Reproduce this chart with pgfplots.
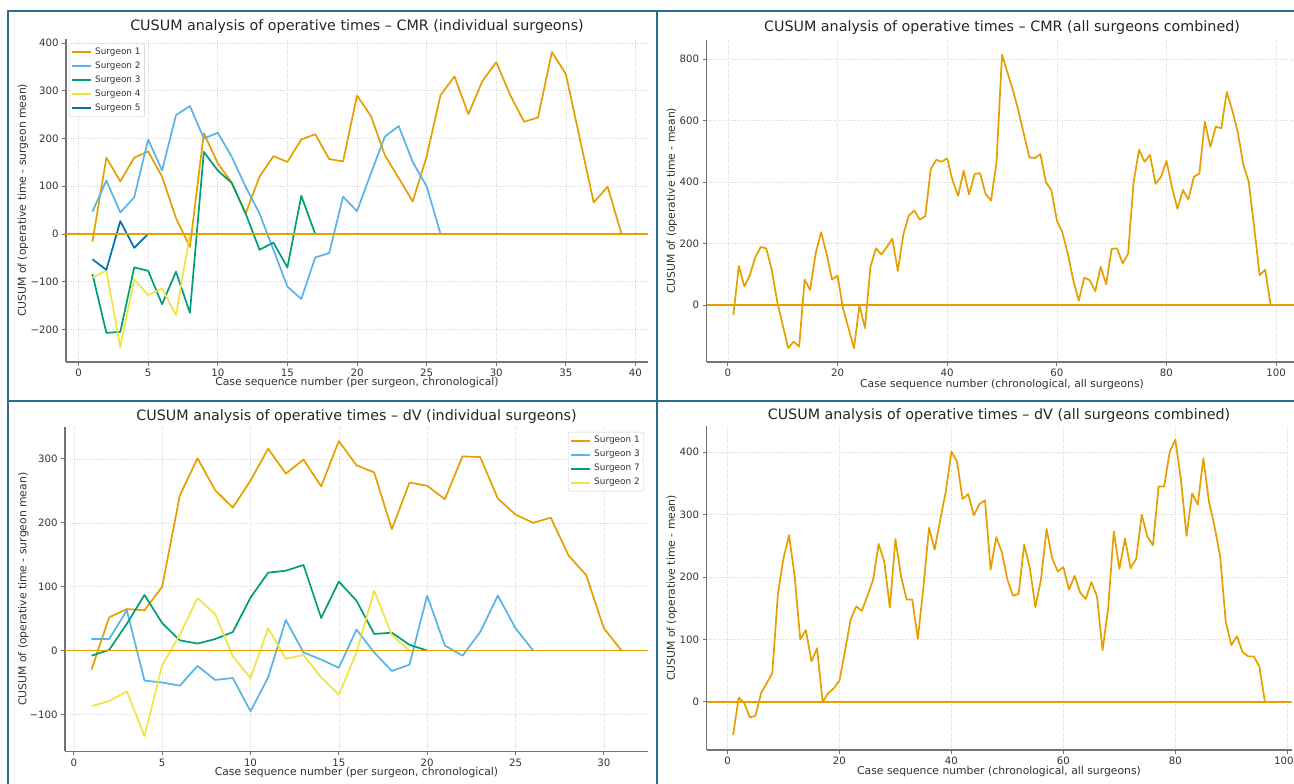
\documentclass[border=0pt]{standalone}
\usepackage{fontspec}
\setmainfont{DejaVu Sans}
\usepackage{pgfplots}
\pgfplotsset{compat=1.18}
\definecolor{cOr}{HTML}{E69F00}
\definecolor{cSky}{HTML}{56B4E9}
\definecolor{cGr}{HTML}{009E73}
\definecolor{cYe}{HTML}{F0E442}
\definecolor{cBl}{HTML}{0072B2}
\definecolor{frameblue}{RGB}{44,108,142}
\pgfplotsset{
  cusum/.style={
    scale only axis,
    anchor=south west,
    /pgf/number format/assume math mode=true,
    axis lines*=left,
    axis line style={draw=black!55, line width=1.2pt},
    tick align=outside,
    major tick length=3.8pt,
    tick style={draw=black!55, line width=0.9pt},
    grid=major,
    grid style={dotted, black!16, line width=0.6pt},
    ticklabel style={font=\fontsize{10.2}{12}\selectfont, text=black!80},
    every axis title/.style={at={(0.5,1)}, anchor=center, font=\fontsize{14.3}{17}\selectfont, text=black!85},
    every axis x label/.style={anchor=center, font=\fontsize{10.8}{13}\selectfont, text=black!80},
    every axis y label/.style={anchor=center, rotate=90, font=\fontsize{10.8}{13}\selectfont, text=black!80},
    legend cell align=left,
    legend image code/.code={\draw[##1, line width=2pt] (0pt,0pt) -- (19pt,0pt);},
  },
  dl/.style={line width=1.7pt, line join=round},
  zl/.style={cOr, line width=1.5pt, forget plot},
  lgd/.style={font=\fontsize{8.9}{10}\selectfont, draw=black!20, rounded corners=2pt,
    fill=white, fill opacity=0.8, text opacity=1, inner sep=1.5pt, row sep=0pt, column sep=1pt,
    nodes={inner xsep=2.5pt, inner ysep=2.5pt, text height=6.6pt, text depth=2.4pt, text=black!80}},
}
\begin{document}
\begin{tikzpicture}
\useasboundingbox (0pt,0pt) rectangle (1294pt,784pt);
\clip (0pt,0pt) rectangle (1294pt,784pt);
\fill[white] (0pt,0pt) rectangle (1294pt,784pt);

% ---------------- Top-left: CMR individual
\begin{axis}[cusum, at={(66pt,422pt)}, width=582pt, height=323.3pt,
  xmin=-0.9, xmax=40.9, ymin=-268, ymax=409,
  xtick={0,5,...,40},
  ytick={-200,-100,0,100,200,300,400},
  yticklabels={−200,−100,0,100,200,300,400},
  title={CUSUM analysis of operative times – CMR (individual surgeons)},
  title style={at={(axis description cs:0.5,1.0362)}},
  xlabel={Case sequence number (per surgeon, chronological)},
  xlabel style={at={(axis description cs:0.5,-0.065)}},
  ylabel={CUSUM of (operative time - surgeon mean)},
  ylabel style={at={(axis description cs:-0.0739,0.5)}},
  legend style={lgd, at={(axis description cs:0.005,0.985)}, anchor=north west},
]
\addplot[dl, cOr] coordinates {(1,-16)(2,160)(3,110)(4,160)(5,173)(6,120)(7,33)(8,-27)(9,211)(10,148)(11,108)(12,43)(13,120)(14,163)(15,151)(16,198)(17,209)(18,157)(19,152)(20,290)(21,247)(22,165)(23,117)(24,68)(25,162)(26,291)(27,330)(28,251)(29,320)(30,360)(31,291)(32,235)(33,244)(34,381)(35,335)(36,200)(37,66)(38,99)(39,0)};
\addlegendentry{Surgeon 1}
\addplot[dl, cSky] coordinates {(1,47)(2,112)(3,45)(4,77)(5,198)(6,133)(7,249)(8,268)(9,200)(10,212)(11,162)(12,99)(13,43)(14,-33)(15,-110)(16,-136)(17,-49)(18,-40)(19,78)(20,48)(21,127)(22,204)(23,226)(24,151)(25,100)(26,0)};
\addlegendentry{Surgeon 2}
\addplot[dl, cGr] coordinates {(1,-84)(2,-207)(3,-205)(4,-70)(5,-77)(6,-147)(7,-79)(8,-165)(9,172)(10,133)(11,107)(12,43)(13,-33)(14,-18)(15,-70)(16,80)(17,0)};
\addlegendentry{Surgeon 3}
\addplot[dl, cYe] coordinates {(1,-91)(2,-77)(3,-237)(4,-95)(5,-128)(6,-114)(7,-170)(8,0)};
\addlegendentry{Surgeon 4}
\addplot[dl, cBl] coordinates {(1,-53)(2,-75)(3,27)(4,-29)(5,0)};
\addlegendentry{Surgeon 5}
\addplot[zl] coordinates {(-0.9,0)(40.9,0)};
\end{axis}

% ---------------- Top-right: CMR combined
\begin{axis}[cusum, at={(706.5pt,422pt)}, width=591pt, height=322.4pt,
  xmin=-3.9, xmax=103.9, ymin=-185, ymax=863,
  xtick={0,20,...,100},
  ytick={0,200,400,600,800},
  title={CUSUM analysis of operative times – CMR (all surgeons combined)},
  title style={at={(axis description cs:0.5,1.036)}},
  xlabel={Case sequence number (chronological, all surgeons)},
  xlabel style={at={(axis description cs:0.5,-0.0713)}},
  ylabel={CUSUM of (operative time - mean)},
  ylabel style={at={(axis description cs:-0.0584,0.5)}},
]
\addplot[dl, cOr] coordinates {(1,-32)(2,127)(3,61)(4,97)(5,156)(6,189)(7,184)(8,115)(9,11)(10,-65)(11,-140)(12,-119)(13,-135)(14,83)(15,49)(16,167)(17,237)(18,167)(19,83)(20,96)(21,-11)(22,-75)(23,-140)(24,0)(25,-75)(26,124)(27,185)(28,164)(29,189)(30,216)(31,111)(32,229)(33,291)(34,307)(35,278)(36,289)(37,442)(38,472)(39,466)(40,477)(41,404)(42,355)(43,437)(44,359)(45,426)(46,429)(47,361)(48,340)(49,464)(50,814)(51,755)(52,698)(53,631)(54,555)(55,480)(56,478)(57,491)(58,399)(59,374)(60,275)(61,237)(62,167)(63,81)(64,14)(65,89)(66,81)(67,45)(68,124)(69,68)(70,183)(71,184)(72,135)(73,167)(74,399)(75,505)(76,466)(77,488)(78,394)(79,417)(80,469)(81,383)(82,313)(83,374)(84,343)(85,417)(86,428)(87,596)(88,514)(89,580)(90,575)(91,693)(92,633)(93,563)(94,458)(95,401)(96,253)(97,97)(98,115)(99,0)};
\addplot[zl] coordinates {(-3.9,0)(103.9,0)};
\end{axis}

% ---------------- Bottom-left: dV individual
\begin{axis}[cusum, at={(65pt,32.5pt)}, width=583pt, height=324.5pt,
  xmin=-0.5, xmax=32.5, ymin=-158, ymax=350,
  xtick={0,5,...,30},
  ytick={-100,0,100,200,300},
  yticklabels={−100,0,100,200,300},
  title={CUSUM analysis of operative times – dV (individual surgeons)},
  title style={at={(axis description cs:0.5,1.0308)}},
  xlabel={Case sequence number (per surgeon, chronological)},
  xlabel style={at={(axis description cs:0.5,-0.0663)}},
  ylabel={CUSUM of (operative time - surgeon mean)},
  ylabel style={at={(axis description cs:-0.0715,0.5)}},
  legend style={lgd, at={(axis description cs:0.993,0.985)}, anchor=north east},
]
\addplot[dl, cOr] coordinates {(1,-30)(2,52)(3,65)(4,63)(5,100)(6,243)(7,301)(8,251)(9,224)(10,266)(11,316)(12,277)(13,299)(14,257)(15,328)(16,290)(17,279)(18,190)(19,263)(20,258)(21,237)(22,304)(23,303)(24,238)(25,213)(26,200)(27,208)(28,149)(29,118)(30,35)(31,0)};
\addlegendentry{Surgeon 1}
\addplot[dl, cSky] coordinates {(1,18)(2,18)(3,63)(4,-47)(5,-50)(6,-55)(7,-24)(8,-46)(9,-43)(10,-95)(11,-42)(12,48)(13,-3)(14,-14)(15,-27)(16,33)(17,-3)(18,-32)(19,-22)(20,86)(21,8)(22,-8)(23,29)(24,86)(25,35)(26,0)};
\addlegendentry{Surgeon 3}
\addplot[dl, cGr] coordinates {(1,-8)(2,1)(3,42)(4,87)(5,43)(6,16)(7,11)(8,18)(9,29)(10,83)(11,122)(12,125)(13,134)(14,51)(15,108)(16,78)(17,26)(18,28)(19,9)(20,0)};
\addlegendentry{Surgeon 7}
\addplot[dl, cYe] coordinates {(1,-87)(2,-79)(3,-64)(4,-134)(5,-23)(6,25)(7,82)(8,57)(9,-9)(10,-43)(11,35)(12,-13)(13,-7)(14,-42)(15,-69)(16,-3)(17,94)(18,24)(19,0)};
\addlegendentry{Surgeon 2}
\addplot[zl] coordinates {(-0.5,0)(32.5,0)};
\end{axis}

% ---------------- Bottom-right: dV combined
\begin{axis}[cusum, at={(706.5pt,34pt)}, width=585pt, height=324pt,
  xmin=-3.75, xmax=100.75, ymin=-77, ymax=442,
  xtick={0,20,...,100},
  xticklabels={0,20,40,60,80,{\hspace*{-7pt}100}},
  ytick={0,100,200,300,400},
  title={CUSUM analysis of operative times – dV (all surgeons combined)},
  title style={at={(axis description cs:0.5,1.0309)}},
  xlabel={Case sequence number (chronological, all surgeons)},
  xlabel style={at={(axis description cs:0.5,-0.0679)}},
  ylabel={CUSUM of (operative time - mean)},
  ylabel style={at={(axis description cs:-0.059,0.5)}},
]
\addplot[dl, cOr] coordinates {(1,-53)(2,7)(3,-2)(4,-25)(5,-22)(6,14)(7,30)(8,46)(9,172)(10,230)(11,267)(12,201)(13,100)(14,115)(15,65)(16,86)(17,0)(18,14)(19,22)(20,34)(21,82)(22,132)(23,153)(24,146)(25,170)(26,195)(27,253)(28,225)(29,151)(30,261)(31,201)(32,164)(33,164)(34,101)(35,184)(36,279)(37,244)(38,292)(39,337)(40,401)(41,385)(42,325)(43,333)(44,299)(45,317)(46,323)(47,212)(48,264)(49,240)(50,196)(51,170)(52,173)(53,252)(54,215)(55,152)(56,196)(57,277)(58,230)(59,209)(60,216)(61,180)(62,202)(63,175)(64,165)(65,192)(66,169)(67,83)(68,150)(69,273)(70,213)(71,262)(72,214)(73,229)(74,300)(75,265)(76,251)(77,345)(78,345)(79,401)(80,420)(81,356)(82,266)(83,334)(84,316)(85,390)(86,321)(87,281)(88,233)(89,129)(90,91)(91,105)(92,80)(93,73)(94,73)(95,57)(96,0)};
\addplot[zl] coordinates {(-3.75,0)(100.75,0)};
\end{axis}

% ---------------- panel frame
\draw[frameblue, line width=2.2pt] (8pt,-2pt) -- (8pt,773pt) -- (1296pt,773pt);
\draw[frameblue, line width=2.2pt] (657pt,-2pt) -- (657pt,773pt);
\draw[frameblue, line width=2.2pt] (8pt,383pt) -- (1296pt,383pt);
\end{tikzpicture}
\end{document}
